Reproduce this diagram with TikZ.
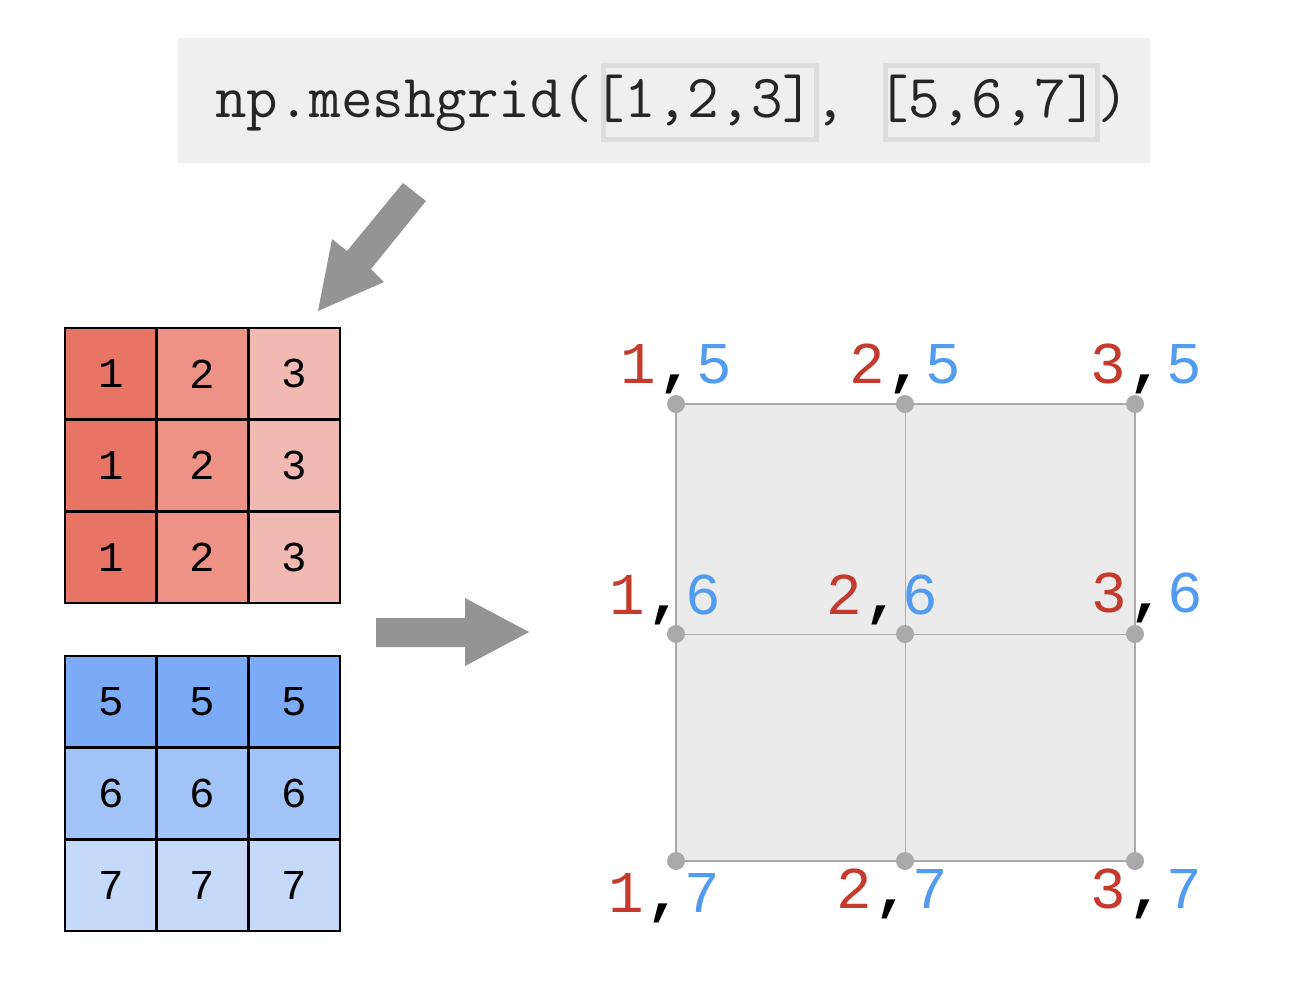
\documentclass[tikz,border=0pt]{standalone}
\usepackage{fontspec}
\newfontfamily\lmono{Liberation Mono}
\definecolor{codebg}{HTML}{EFEFEF}
\definecolor{codebox}{HTML}{DDDDDD}
\definecolor{redA}{HTML}{E87466}
\definecolor{redB}{HTML}{ED9285}
\definecolor{redC}{HTML}{F1B9B2}
\definecolor{blueA}{HTML}{7BAAF7}
\definecolor{blueB}{HTML}{A0C3F8}
\definecolor{blueC}{HTML}{C5DAFA}
\definecolor{arrowgray}{HTML}{939493}
\definecolor{gridfill}{HTML}{EBEBEB}
\definecolor{gridline}{HTML}{AAAAAA}
\definecolor{lred}{HTML}{C43A2D}
\definecolor{lblue}{HTML}{519BF0}
\newcommand{\pairlbl}[2]{\textcolor{lred}{#1}\kern2.7pt{\bfseries ,}\kern2.7pt\textcolor{lblue}{#2}}
\begin{document}
\begin{tikzpicture}[x=1pt,y=-1pt,
  cell/.style={draw=black,line width=2.5pt,minimum width=91.7pt,minimum height=91.7pt,inner sep=0pt,font=\lmono\fontsize{42.5}{43}\selectfont},
  lbl/.style={anchor=base,inner sep=0pt,font=\lmono\fontsize{59.2}{60}\selectfont},
  gdot/.style={circle,fill=gridline,inner sep=0pt,minimum size=18pt},
  argbox/.style={draw=codebox,line width=5pt},
  bigarrow/.style={fill=arrowgray}
]
\useasboundingbox (0,0) rectangle (1300,994);
% code box
\fill[codebg] (178,38) rectangle (1150,163);
\draw[argbox] (603,65) rectangle (816,139);
\draw[argbox] (885,65) rectangle (1097,139);
\node[anchor=base west,inner sep=0pt,font=\ttfamily\fontsize{61.2}{62}\selectfont,text=black!85] (code) at (215,117) {np.meshgrid([1,2,3], [5,6,7])};
% arrows
\fill[bigarrow] (403,183) -- (426,201) -- (371,269) -- (384,282) -- (318,311) -- (332,239) -- (347,251) -- cycle;
\fill[bigarrow] (376,618) -- (465,618) -- (465,598) -- (529,632) -- (465,666) -- (465,647) -- (376,647) -- cycle;
% red grid
\foreach \r/\y in {1/373.8,2/465.5,3/557.2}{
  \node[cell,fill=redA] (x\r1) at (110.8,\y) {1};
  \node[cell,fill=redB] (x\r2) at (202.5,\y) {2};
  \node[cell,fill=redC] (x\r3) at (294.2,\y) {3};
}
% blue grid
\foreach \c/\x in {1/110.8,2/202.5,3/294.2}{
  \node[cell,fill=blueA] (y1\c) at (\x,701.8) {5};
  \node[cell,fill=blueB] (y2\c) at (\x,793.5) {6};
  \node[cell,fill=blueC] (y3\c) at (\x,885.2) {7};
}
% right grid
\coordinate (g11) at (676,404);
\coordinate (g12) at (905,404);
\coordinate (g13) at (1135,404);
\coordinate (g21) at (676,634);
\coordinate (g22) at (905,634);
\coordinate (g23) at (1135,634);
\coordinate (g31) at (676,861);
\coordinate (g32) at (905,861);
\coordinate (g33) at (1135,861);
\fill[gridfill] (g11) rectangle (g33);
\draw[gridline,line width=1pt] (g12) -- (g32);
\draw[gridline,line width=1pt] (g21) -- (g23);
\draw[gridline,line width=2pt] (g11) -- (g13) -- (g33) -- (g31) -- cycle;
\foreach \p in {g11,g12,g13,g21,g22,g23,g31,g32,g33}{
  \node[gdot] (d\p) at (\p) {};
}
% labels
\node[lbl] (l15) at (676,383) {\pairlbl{1}{5}};
\node[lbl] (l25) at (905,383) {\pairlbl{2}{5}};
\node[lbl] (l35) at (1146,383) {\pairlbl{3}{5}};
\node[lbl] (l16) at (665,614) {\pairlbl{1}{6}};
\node[lbl] (l26) at (882,614) {\pairlbl{2}{6}};
\node[lbl] (l36) at (1147,612) {\pairlbl{3}{6}};
\node[lbl] (l17) at (664,912) {\pairlbl{1}{7}};
\node[lbl] (l27) at (892,908) {\pairlbl{2}{7}};
\node[lbl] (l37) at (1146,908) {\pairlbl{3}{7}};
\end{tikzpicture}
\end{document}
